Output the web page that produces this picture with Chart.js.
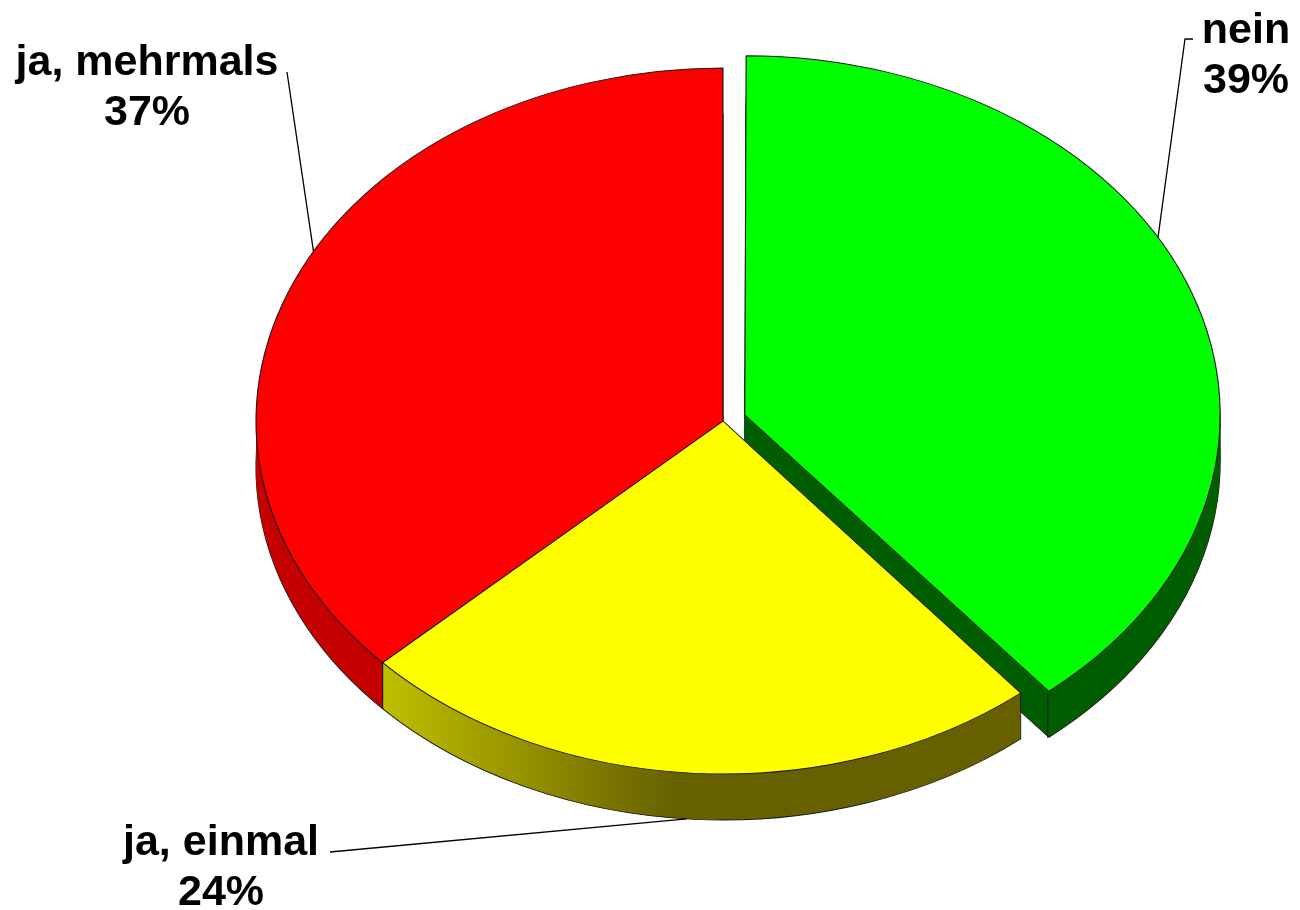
<!DOCTYPE html>
<html>
<head>
<meta charset="utf-8">
<script src="https://cdn.jsdelivr.net/npm/chart.js@4/dist/chart.umd.min.js"></script>
<style>
  html, body { margin: 0; padding: 0; background: #fff; }
  canvas { display: block; }
</style>
</head>
<body>
<canvas id="pie" width="1300" height="910"></canvas>
<script>
// Survey answers, clockwise from 12 o'clock.
const CATEGORIES = ["nein", "ja, einmal", "ja, mehrmals"];
const PERCENTS = [39, 24, 37];
const TOP_COLORS = ["#00ff00", "#ffff00", "#ff0000"];
const SIDE_LIGHT = ["#006800", "#c4c400", "#c40000"];
const SIDE_DARK = ["#005e00", "#666000", "#aa0000"];
const EXPLODE = [82, 0, 0];

// How the flat Chart.js pie is laid onto the tilted disc.
const VIEW = { cx: 723, cy: 421, rx: 467, ry: 353, depth: 46 };
const EDGE = "#1c1c1c";
const FONT = "bold 43px 'Liberation Sans', Arial, sans-serif";
const LINE_GAP = 50;

// Label layout: text centre x, first baseline, leader start, where on the slice the leader ends.
const LABELS = [
  { x: 1246, y: 43, leader: [[1193, 39], [1185, 39]], at: 0.43, onSide: false },
  { x: 221, y: 855, leader: [[330, 852]], at: 0.51, onSide: true },
  { x: 147, y: 75, leader: [[287, 72]], at: 0.54, onSide: false },
];

function project(ctx, arc) {
  ctx.translate(VIEW.cx, VIEW.cy);
  ctx.scale(VIEW.rx / arc.outerRadius, VIEW.ry / arc.outerRadius);
  ctx.translate(-arc.x, -arc.y);
}

// Screen position of a rim point of an arc (follows ArcElement's offset handling).
function rimPoint(arc, angle) {
  const R = arc.outerRadius;
  const d = (arc.options.offset || 0) / 4;
  const mid = (arc.startAngle + arc.endAngle) / 2;
  const fix = 1 - Math.sin(Math.min(Math.PI, arc.circumference || 0));
  const r = R + d * fix;
  const px = Math.cos(mid) * d + Math.cos(angle) * r;
  const py = Math.sin(mid) * d + Math.sin(angle) * r;
  return [VIEW.cx + px * VIEW.rx / R, VIEW.cy + py * VIEW.ry / R];
}

function ghostOf(arc, fill, stroke) {
  const g = Object.assign(Object.create(Object.getPrototypeOf(arc)), arc);
  g.options = Object.assign({}, arc.options, {
    backgroundColor: fill,
    borderWidth: stroke ? 1 : 0,
    borderColor: EDGE,
  });
  return g;
}

const discPlugin = {
  id: "disc",
  beforeDatasetsDraw(chart) {
    const ctx = chart.ctx;
    const arcs = chart.getDatasetMeta(0).data;

    const fills = arcs.map((arc, i) => {
      const g = ctx.createLinearGradient(arc.x - arc.outerRadius, 0, arc.x + arc.outerRadius, 0);
      g.addColorStop(0, SIDE_LIGHT[i]);
      g.addColorStop(0.12, SIDE_LIGHT[i]);
      g.addColorStop(0.45, SIDE_DARK[i]);
      g.addColorStop(1, SIDE_DARK[i]);
      return g;
    });

    // side walls: stacked copies of each slice, deepest first
    for (let d = VIEW.depth; d >= 1; d--) {
      arcs.forEach((arc, i) => {
        ctx.save();
        ctx.translate(0, d);
        project(ctx, arc);
        ghostOf(arc, fills[i], d === VIEW.depth).draw(ctx);
        ctx.restore();
      });
    }

    // vertical edges at the front corners
    ctx.save();
    ctx.strokeStyle = EDGE;
    ctx.lineWidth = 1;
    arcs.forEach((arc) => {
      [arc.startAngle, arc.endAngle].forEach((a) => {
        if (Math.sin(a) <= 0.05) return;
        const [px, py] = rimPoint(arc, a);
        ctx.beginPath();
        ctx.moveTo(px, py);
        ctx.lineTo(px, py + VIEW.depth);
        ctx.stroke();
      });
    });
    ctx.restore();

    // top faces are drawn by Chart.js under the same projection
    ctx.save();
    project(ctx, arcs[0]);
  },
  afterDatasetsDraw(chart) {
    chart.ctx.restore();
  },
};

const labelPlugin = {
  id: "calloutLabels",
  afterDraw(chart) {
    const ctx = chart.ctx;
    const arcs = chart.getDatasetMeta(0).data;
    ctx.save();
    ctx.strokeStyle = "#000";
    ctx.lineWidth = 1.3;
    ctx.fillStyle = "#000";
    ctx.font = FONT;
    ctx.textAlign = "center";
    ctx.textBaseline = "alphabetic";
    arcs.forEach((arc, i) => {
      const spec = LABELS[i];
      const a = arc.startAngle + (arc.endAngle - arc.startAngle) * spec.at;
      const end = rimPoint(arc, a);
      if (spec.onSide) end[1] += VIEW.depth;
      ctx.beginPath();
      spec.leader.forEach(([x, y], k) => (k === 0 ? ctx.moveTo(x, y) : ctx.lineTo(x, y)));
      ctx.lineTo(end[0], end[1]);
      ctx.stroke();
      ctx.fillText(CATEGORIES[i], spec.x, spec.y);
      ctx.fillText(PERCENTS[i] + "%", spec.x, spec.y + LINE_GAP);
    });
    ctx.restore();
  },
};

new Chart(document.getElementById("pie"), {
  type: "pie",
  data: {
    labels: CATEGORIES,
    datasets: [
      {
        data: PERCENTS,
        backgroundColor: TOP_COLORS,
        borderColor: EDGE,
        borderWidth: 1,
        offset: EXPLODE,
      },
    ],
  },
  options: {
    responsive: false,
    animation: false,
    devicePixelRatio: 1,
    events: [],
    layout: { padding: 0 },
    plugins: {
      legend: { display: false },
      tooltip: { enabled: false },
    },
  },
  plugins: [discPlugin, labelPlugin],
});
</script>
</body>
</html>
